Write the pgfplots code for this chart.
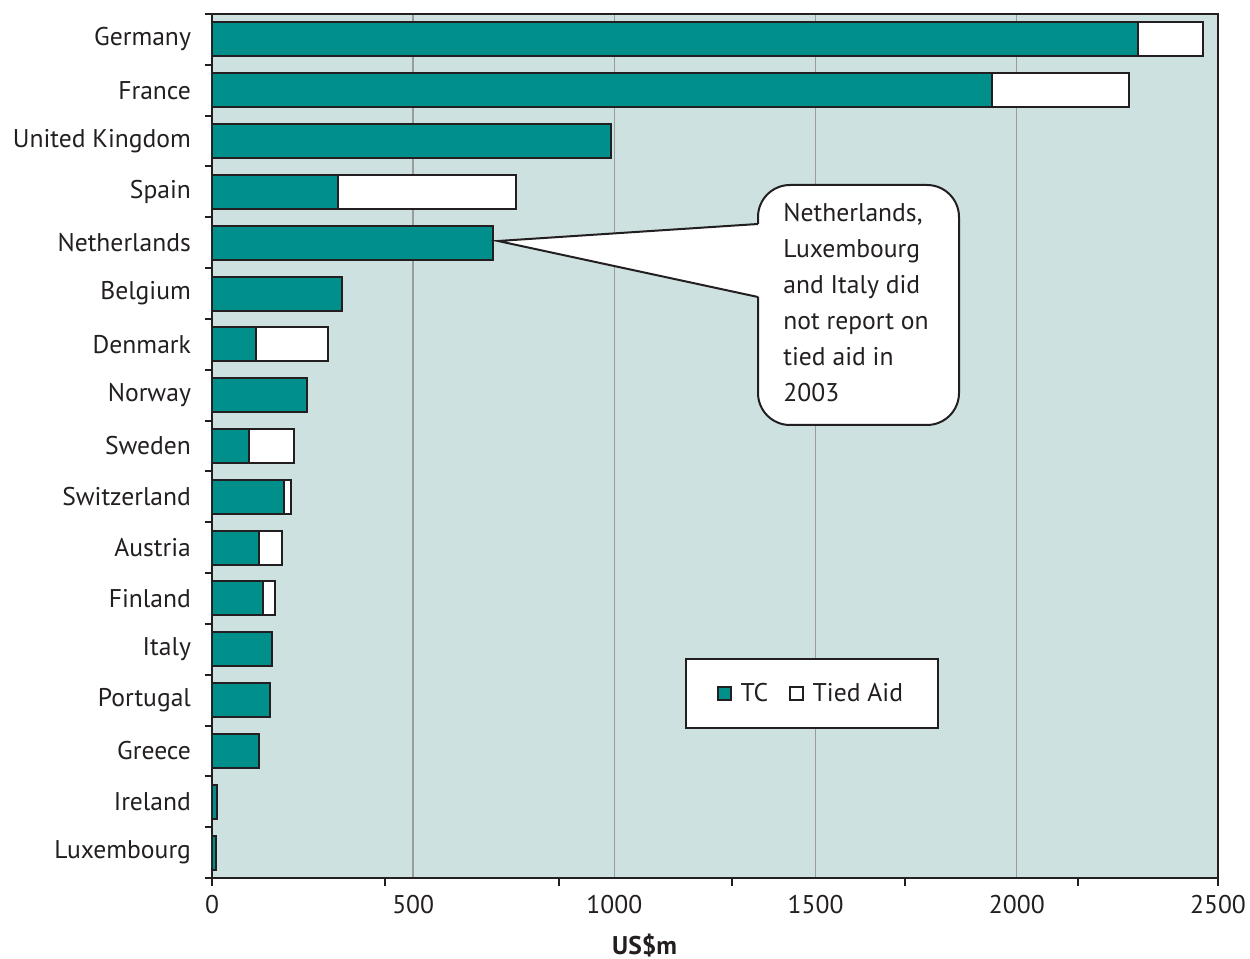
\documentclass[border=0pt]{standalone}
\usepackage{pgfplots}
\pgfplotsset{compat=1.18}
\usepackage{fontspec}
\setmainfont{PT Sans}
\definecolor{tcteal}{RGB}{0,143,138}
\definecolor{plotbg}{RGB}{205,225,225}
\definecolor{edge}{RGB}{35,31,32}
\definecolor{gridgray}{RGB}{155,155,155}
\newcommand{\lbl}{\fontsize{12.8}{15}\selectfont}
\begin{document}
\begin{tikzpicture}
\useasboundingbox (0,0) rectangle (625pt,479.5pt);
\begin{axis}[
  at={(106pt,40.5pt)}, anchor=south west,
  scale only axis, width=503pt, height=432pt,
  xbar stacked, bar width=17pt,
  xmin=0, xmax=2500, ymin=-0.5, ymax=16.5, y dir=reverse,
  axis background/.style={fill=plotbg},
  axis line style={draw=edge, line width=1pt},
  tick style={draw=edge, line width=1pt},
  tick align=outside, tick pos=left,
  major tick length=0pt,
  xtick={0,500,...,2500},
  /pgf/number format/assume math mode=true,
  /pgf/number format/1000 sep={},
  xmajorgrids, major grid style={gridgray, line width=0.7pt},
  extra x ticks={0,430.6,861.2,1291.8,1722.4,2153,2500},
  extra x tick style={grid=none, major tick length=4pt, xticklabel={}},
  ytick={0,...,16},
  yticklabels={Germany,France,United Kingdom,Spain,Netherlands,Belgium,Denmark,Norway,Sweden,Switzerland,Austria,Finland,Italy,Portugal,Greece,Ireland,Luxembourg},
  extra y ticks={-0.5,0.5,...,16.5},
  extra y tick style={grid=none, major tick length=3.5pt, yticklabel={}},
  ticklabel style={font=\lbl, text=edge},
  yticklabel style={xshift=-7pt},
  xticklabel style={yshift=-5pt},
  xlabel={\bfseries US\$m},
  xlabel style={font=\lbl, text=edge, at={(axis description cs:0.43,0)}, anchor=center, yshift=-34pt},
  legend columns=2,
  legend style={at={(axis description cs:0.5964,0.2135)}, anchor=center,
    draw=edge, line width=1pt, fill=white, font=\lbl, text=edge,
    inner xsep=15.5pt, inner ysep=10pt,
    /tikz/every odd column/.append style={column sep=2.5pt},
    /tikz/every even column/.append style={column sep=8.5pt}},
  sqlegend/.style={legend image code/.code={
    \draw[##1, line width=0.8pt] (0pt,-3.25pt) rectangle (6.5pt,3.25pt);}},
]
% technical cooperation
\addplot[fill=tcteal, draw=edge, line width=1pt, sqlegend] coordinates {
  (2301,0) (1938,1) (991,2) (313,3) (698,4) (323,5) (109,6) (236,7) (92,8)
  (179,9) (116,10) (127,11) (149,12) (144,13) (117,14) (13,15) (11,16)};
% tied aid
\addplot[fill=white, draw=edge, line width=1pt, sqlegend] coordinates {
  (162,0) (341,1) (0,2) (442,3) (0,4) (0,5) (179,6) (0,7) (111,8)
  (17,9) (58,10) (30,11) (0,12) (0,13) (0,14) (0,15) (0,16)};
\legend{TC, Tied Aid}
\end{axis}
% callout note, coordinates in page pixels (y downward)
\begin{scope}[shift={(0pt,479.5pt)}, x=0.5pt, y=-0.5pt]
  \draw[edge, fill=white, line width=1pt, rounded corners=16pt] (758,185) rectangle (959,425);
  \fill[white] (498,241) -- (760,224) -- (760,297) -- cycle;
  \draw[edge, line width=1pt] (758,224) -- (498,241) -- (758,297);
  \node[anchor=base west, inner sep=0pt, font=\lbl, text=edge] at (783,222) {Netherlands,};
  \node[anchor=base west, inner sep=0pt, font=\lbl, text=edge] at (783,258) {Luxembourg};
  \node[anchor=base west, inner sep=0pt, font=\lbl, text=edge] at (783,294) {and Italy did};
  \node[anchor=base west, inner sep=0pt, font=\lbl, text=edge] at (783,330) {not report on};
  \node[anchor=base west, inner sep=0pt, font=\lbl, text=edge] at (783,366) {tied aid in};
  \node[anchor=base west, inner sep=0pt, font=\lbl, text=edge] at (783,402) {2003};
\end{scope}
\end{tikzpicture}
\end{document}
